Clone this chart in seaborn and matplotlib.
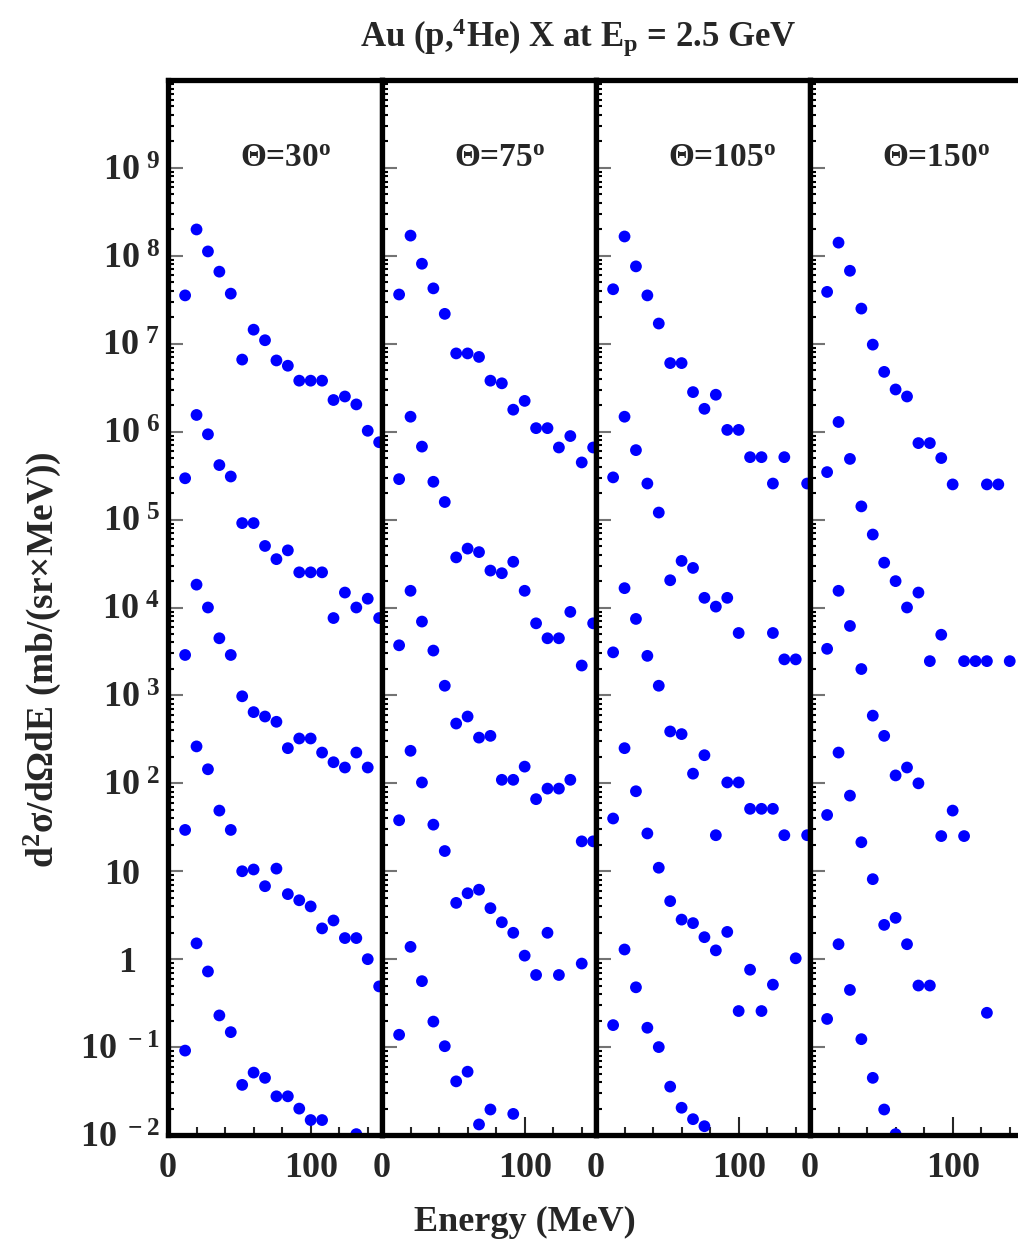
import numpy as np
import pandas as pd
import seaborn as sns
import matplotlib
matplotlib.use('Agg')
import matplotlib.pyplot as plt
import matplotlib.transforms as mtransforms
from matplotlib.ticker import MultipleLocator, LogLocator, NullFormatter

# alpha energies (MeV), same grid in every panel
energy = [12, 20, 28, 36, 44, 52, 60, 68, 76, 84, 92, 100, 108, 116, 124, 132, 140, 148]
angles = [30, 75, 105, 150]

# values, stored as log10 of d2sigma/dOmega dE, None = no point
th30_1 = [7.55, 8.30, 8.05, 7.82, 7.57, 6.82, 7.16, 7.04, 6.81, 6.75, 6.58, 6.58, 6.58, 6.36, 6.40, 6.31, 6.01, 5.88]
th30_2 = [5.47, 6.19, 5.97, 5.62, 5.49, 4.96, 4.96, 4.70, 4.55, 4.65, 4.40, 4.40, 4.40, 3.88, 4.17, 4.00, 4.10, 3.88]
th30_3 = [3.46, 4.26, 4.00, 3.65, 3.46, 2.99, 2.81, 2.76, 2.70, 2.40, 2.51, 2.51, 2.35, 2.24, 2.18, 2.35, 2.18, None]
th30_4 = [1.47, 2.42, 2.16, 1.69, 1.47, 1.00, 1.02, 0.83, 1.03, 0.74, 0.67, 0.60, 0.35, 0.44, 0.24, 0.24, 0.00, -0.31]
th30_5 = [-1.04, 0.18, -0.14, -0.64, -0.83, -1.43, -1.29, -1.35, -1.56, -1.56, -1.70, -1.83, -1.83, None, None, -1.99, None, None]

th75_1 = [7.56, 8.23, 7.91, 7.63, 7.34, 6.89, 6.89, 6.85, 6.58, 6.55, 6.25, 6.35, 6.04, 6.04, 5.82, 5.95, 5.65, 5.82]
th75_2 = [5.46, 6.17, 5.83, 5.43, 5.20, 4.57, 4.67, 4.63, 4.42, 4.39, 4.52, 4.19, 3.82, 3.65, 3.65, 3.95, 3.34, 3.82]
th75_3 = [3.57, 4.19, 3.84, 3.51, 3.11, 2.68, 2.76, 2.52, 2.54, 2.04, 2.04, 2.19, 1.82, 1.94, 1.94, 2.04, 1.34, 1.34]
th75_4 = [1.58, 2.37, 2.01, 1.53, 1.23, 0.64, 0.75, 0.79, 0.58, 0.42, 0.30, 0.04, -0.18, 0.30, -0.18, None, -0.05, None]
th75_5 = [-0.86, 0.14, -0.25, -0.71, -0.99, -1.39, -1.28, -1.88, -1.71, None, -1.76, None, None, None, None, None, None, None]

th105_1 = [7.62, 8.22, 7.88, 7.55, 7.23, 6.78, 6.78, 6.45, 6.26, 6.42, 6.02, 6.02, 5.71, 5.71, 5.41, 5.71, None, 5.41]
th105_2 = [5.48, 6.17, 5.79, 5.41, 5.08, 4.31, 4.53, 4.45, 4.11, 4.01, 4.11, 3.71, None, None, 3.71, 3.41, 3.41, None]
th105_3 = [3.49, 4.22, 3.87, 3.45, 3.11, 2.59, 2.56, 2.11, 2.32, 1.41, 2.01, 2.01, 1.71, 1.71, 1.71, 1.41, None, 1.41]
th105_4 = [1.60, 2.40, 1.91, 1.43, 1.04, 0.66, 0.45, 0.41, 0.25, 0.10, 0.31, -0.59, -0.12, -0.59, -0.29, None, 0.01, None]
th105_5 = [-0.75, 0.11, -0.32, -0.78, -1.00, -1.45, -1.69, -1.82, -1.90, None, None, None, None, None, None, None, None, None]

th150_1 = [7.59, 8.15, 7.83, 7.40, 6.99, 6.68, 6.48, 6.40, 5.87, 5.87, 5.70, 5.40, None, None, 5.40, 5.40, None, None]
th150_2 = [5.54, 6.11, 5.69, 5.15, 4.83, 4.51, 4.30, 4.00, 4.17, 3.39, 3.69, None, 3.39, 3.39, 3.39, None, 3.39, None]
th150_3 = [3.53, 4.19, 3.79, 3.30, 2.77, 2.54, 2.09, 2.18, 2.00, None, 1.40, 1.69, 1.40, None, None, None, None, None]
th150_4 = [1.64, 2.35, 1.86, 1.33, 0.91, 0.39, 0.47, 0.17, -0.30, -0.30, None, None, None, None, -0.61, None, None, None]
th150_5 = [-0.68, 0.17, -0.35, -0.91, -1.35, -1.71, -1.99, None, None, None, None, None, None, None, None, None, None, None]

panels = {
    30: [th30_1, th30_2, th30_3, th30_4, th30_5],
    75: [th75_1, th75_2, th75_3, th75_4, th75_5],
    105: [th105_1, th105_2, th105_3, th105_4, th105_5],
    150: [th150_1, th150_2, th150_3, th150_4, th150_5],
}

rows = []
for ang in angles:
    for k, ser in enumerate(panels[ang]):
        for e, v in zip(energy, ser):
            if v is not None:
                rows.append([ang, k, e, 10.0 ** v])
df = pd.DataFrame(rows, columns=['angle', 'set', 'energy', 'xs'])

sns.set_style('ticks')
plt.rcParams['font.family'] = ['Liberation Serif', 'DejaVu Serif']
plt.rcParams['font.weight'] = 'bold'
plt.rcParams['mathtext.fontset'] = 'custom'
plt.rcParams['mathtext.rm'] = 'Liberation Serif:bold'
plt.rcParams['mathtext.it'] = 'Liberation Serif:bold'
plt.rcParams['mathtext.bf'] = 'Liberation Serif:bold'

W, H = 1018, 1247
fig = plt.figure(figsize=(W / 100, H / 100), dpi=100)
left0, pw, top, bot = 168, 214, 80, 1135

decades = list(range(-2, 10))
ylabels = {9: r'$10^{\ 9}$', 8: r'$10^{\ 8}$', 7: r'$10^{\ 7}$', 6: r'$10^{\ 6}$',
           5: r'$10^{\ 5}$', 4: r'$10^{\ 4}$', 3: r'$10^{\ 3}$', 2: r'$10^{\ 2}$',
           1: '10', 0: '1', -1: r'$10^{\ -1}$', -2: r'$10^{\ -2}$'}

for i, ang in enumerate(angles):
    ax = fig.add_axes([(left0 + i * pw) / W, 1 - bot / H, pw / W, (bot - top) / H])
    sns.scatterplot(data=df[df['angle'] == ang], x='energy', y='xs', ax=ax,
                    color='#0000ff', s=72, edgecolor='none', linewidth=0, legend=False)
    ax.set_yscale('log')
    ax.set_xlim(0, 150)
    ax.set_ylim(1e-2, 1e10)
    ax.set_xlabel('')
    ax.set_ylabel('')
    for sp in ax.spines.values():
        sp.set_linewidth(3.8)
        sp.set_color('black')
    ax.xaxis.set_major_locator(MultipleLocator(100))
    ax.xaxis.set_minor_locator(MultipleLocator(20))
    ax.yaxis.set_minor_locator(LogLocator(base=10, subs=np.arange(2, 10), numticks=20))
    ax.yaxis.set_minor_formatter(NullFormatter())
    ax.tick_params(axis='x', which='major', direction='in', length=13, width=1.5,
                   labelsize=26, pad=12, top=False)
    ax.tick_params(axis='x', which='minor', direction='in', length=5.5, width=1.5, top=False)
    ax.tick_params(axis='y', which='major', direction='in', length=11, width=1.5,
                   color='0.45', right=False)
    ax.tick_params(axis='y', which='minor', direction='in', length=4.5, width=1.5,
                   color='black', right=False)
    ax.set_xticks([0, 100], labels=['0', '100'])
    ax.set_yticks([10.0 ** d for d in decades], labels=[])
    if i == 0:
        # decade labels: '10'/'1' sit left of the exponent column like the original
        trans = mtransforms.blended_transform_factory(fig.transFigure, ax.transData)
        for d in decades:
            xr = 160 if d not in (0, 1) else (140 if d == 1 else 136)
            ax.text(xr / W, 10.0 ** d, ylabels[d], transform=trans, ha='right',
                    va='center_baseline', fontsize=26, fontweight='bold', clip_on=False)
    ax.text(0.336, 0.926, r'$\Theta$=' + str(ang) + r'$^{o}$', transform=ax.transAxes,
            ha='left', va='center', fontsize=24, fontweight='bold')

fig.text(578 / W, 1 - 38 / H, r'Au (p,$^{4}$He) X at E$_{p}$ = 2.5 GeV',
         ha='center', va='center', fontsize=25, fontweight='bold')
fig.text(525 / W, 1 - 1222 / H, 'Energy (MeV)', ha='center', va='center',
         fontsize=26, fontweight='bold')
fig.text(42 / W, 1 - 660 / H, r'd$^{2}$σ/dΩdE (mb/(sr×MeV))', rotation=90,
         ha='center', va='center', fontsize=27, fontweight='bold')

fig.savefig('out.png', dpi=100)
